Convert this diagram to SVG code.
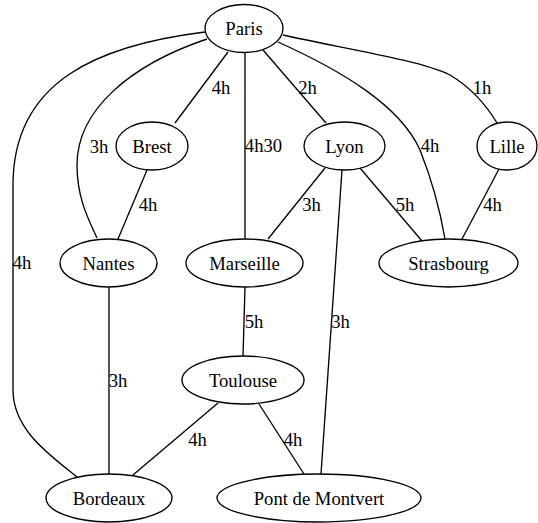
<svg xmlns="http://www.w3.org/2000/svg" width="538" height="523" viewBox="0 0 538 523" font-family="'Liberation Serif', 'Times New Roman', Times, serif">
<style>
.n ellipse{fill:none;stroke:#000;stroke-width:1.33}
text{font-family:'Liberation Serif','Times New Roman',Times,serif;font-size:18.67px;fill:#000;text-anchor:middle}
.e path{fill:none;stroke:#000;stroke-width:1.33}
</style>
<rect width="538" height="523" fill="#fff"/>
<g id="edges" class="e">
<path d="M228,52 L175,123"/>
<path d="M207,39 C130,65 77,110 77,165 C77,200 90,222 97,238"/>
<path d="M205,32 C100,45 13,80 13,185 L13,390 C13,430 50,455 77,477"/>
<path d="M245,52.5 L245,239"/>
<path d="M263,50 L326,123"/>
<path d="M278,42 C340,70 400,105 420,150 C432,180 440,210 445,239"/>
<path d="M283,35 C340,48 420,60 450,75 C475,90 488,108 497,123"/>
<path d="M147,170 L118,239"/>
<path d="M325,168 L268,239"/>
<path d="M360,168 L422,241"/>
<path d="M342,170 L321,474"/>
<path d="M499,169 L462,239"/>
<path d="M109,287 L109,474"/>
<path d="M245,287 L243,356"/>
<path d="M218,403 L133,475"/>
<path d="M259,404 L304,474"/>
</g>
<g id="edge-labels" font-family="'Liberation Serif', 'Times New Roman', Times, serif">
<text x="221" y="94">4h</text>
<text x="99" y="153">3h</text>
<text x="22" y="269">4h</text>
<text x="263.5" y="152">4h30</text>
<text x="307.5" y="94">2h</text>
<text x="430" y="152">4h</text>
<text x="482" y="94">1h</text>
<text x="148" y="211">4h</text>
<text x="311.5" y="211">3h</text>
<text x="405" y="211">5h</text>
<text x="340.5" y="328">3h</text>
<text x="492.5" y="211">4h</text>
<text x="118" y="387">3h</text>
<text x="254" y="328">5h</text>
<text x="197.5" y="446">4h</text>
<text x="293" y="446">4h</text>
</g>
<g id="paris" class="n"><ellipse cx="244" cy="28.5" rx="39" ry="24"/><text x="244" y="35">Paris</text></g>
<g id="brest" class="n"><ellipse cx="152" cy="146" rx="36" ry="24"/><text x="152" y="152.5">Brest</text></g>
<g id="lyon" class="n"><ellipse cx="344.5" cy="146" rx="40.5" ry="24"/><text x="344.5" y="152.5">Lyon</text></g>
<g id="lille" class="n"><ellipse cx="507" cy="146" rx="30" ry="24"/><text x="507" y="152.5">Lille</text></g>
<g id="nantes" class="n"><ellipse cx="108.5" cy="263" rx="48.5" ry="24"/><text x="108.5" y="269.5">Nantes</text></g>
<g id="marseille" class="n"><ellipse cx="244.5" cy="263" rx="58.5" ry="24"/><text x="244.5" y="269.5">Marseille</text></g>
<g id="strasbourg" class="n"><ellipse cx="448.5" cy="263" rx="69.5" ry="24"/><text x="448.5" y="269.5">Strasbourg</text></g>
<g id="toulouse" class="n"><ellipse cx="243" cy="380" rx="61" ry="24"/><text x="243" y="386.5">Toulouse</text></g>
<g id="bordeaux" class="n"><ellipse cx="109" cy="498" rx="63" ry="24"/><text x="109" y="504.5">Bordeaux</text></g>
<g id="pontdemontvert" class="n"><ellipse cx="319" cy="498" rx="102" ry="24"/><text x="319" y="504.5">Pont de Montvert</text></g>
</svg>
